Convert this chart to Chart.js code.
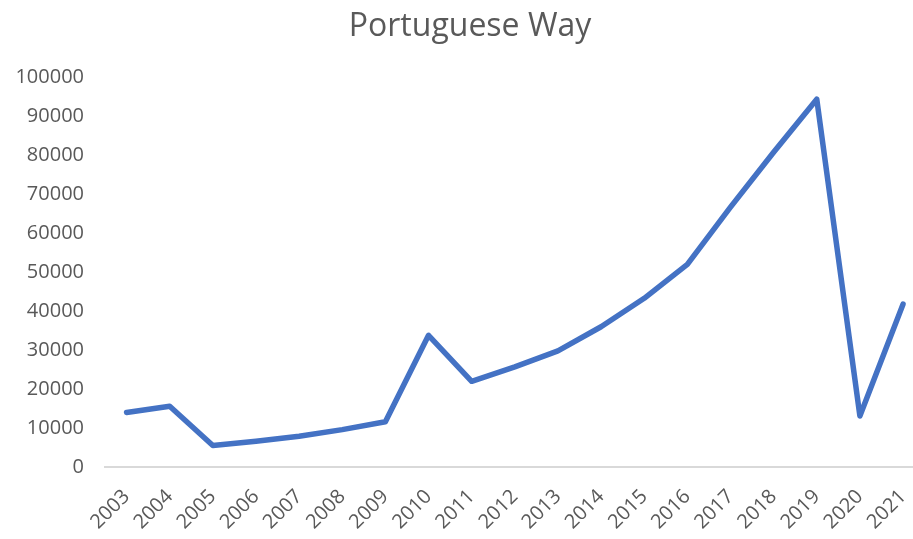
<!DOCTYPE html>
<html>
<head>
<meta charset="utf-8">
<script src="https://cdn.jsdelivr.net/npm/chart.js@4"></script>
<style>
  html, body { margin: 0; padding: 0; overflow: hidden; background: #fff; }
  #wrap { width: 938px; height: 539px; }
</style>
</head>
<body>
<div id="wrap"><canvas id="waysChart"></canvas></div>
<script>
const years = ["2003", "2004", "2005", "2006", "2007", "2008", "2009", "2010", "2011", "2012",
  "2013", "2014", "2015", "2016", "2017", "2018", "2019", "2020", "2021"];
const pilgrims = [14000, 15600, 5500, 6600, 7900, 9600, 11600, 33800, 22000, 25700,
  29800, 36000, 43300, 52000, 66700, 80800, 94400, 13100, 41800];
const yTicks = [0, 10000, 20000, 30000, 40000, 50000, 60000, 70000, 80000, 90000, 100000];

const textColor = "#595959";
const font = { family: "'Open Sans', sans-serif", size: 20 };

new Chart(document.getElementById("waysChart").getContext("2d"), {
  type: "line",
  data: {
    labels: years,
    datasets: [
      {
        data: pilgrims,
        borderColor: "#4472C4",
        borderWidth: 5.5,
        borderJoinStyle: "round",
        borderCapStyle: "round",
        pointRadius: 0,
        tension: 0,
      },
    ],
  },
  options: {
    responsive: true,
    maintainAspectRatio: false,
    animation: false,
    layout: { padding: { left: 2 } },
    plugins: {
      legend: { display: false },
      tooltip: { enabled: false },
      title: {
        display: true,
        text: "Portuguese Way",
        color: textColor,
        font: { family: "'Open Sans', sans-serif", size: 32, weight: "normal" },
        padding: { top: 8, bottom: 31 },
      },
    },
    scales: {
      x: {
        offset: true,
        grid: { display: false, drawTicks: false },
        border: { display: true, color: "#d9d9d9", width: 2 },
        ticks: {
          color: textColor,
          font: font,
          minRotation: 45,
          maxRotation: 45,
          autoSkip: false,
          padding: 18,
        },
        afterFit: (s) => { s.height = 72; },
      },
      y: {
        min: 0,
        max: 100000,
        grid: { display: false, drawTicks: false },
        border: { display: false },
        afterBuildTicks: (s) => { s.ticks = yTicks.map((v) => ({ value: v })); },
        ticks: {
          color: textColor,
          font: font,
          padding: 21,
          callback: (v) => String(v),
        },
        afterFit: (s) => { s.width = 103; },
      },
    },
  },
});
</script>
</body>
</html>
